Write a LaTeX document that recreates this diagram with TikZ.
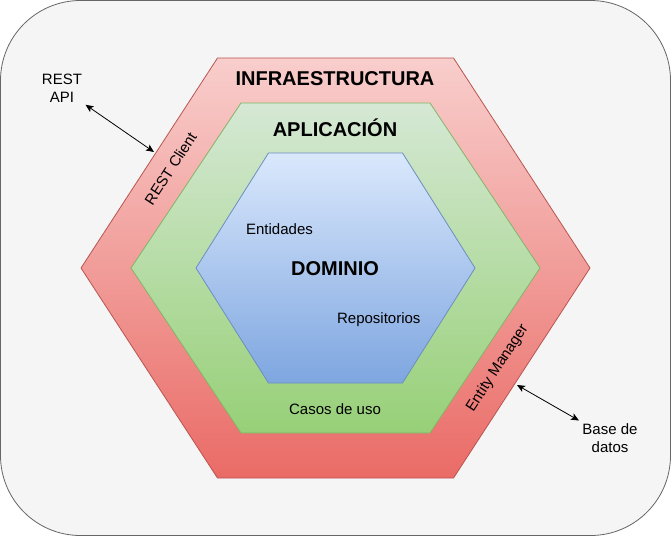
\documentclass[tikz,border=0pt]{standalone}
\usepackage{fontspec}
\setmainfont{Liberation Sans}
\usetikzlibrary{arrows.meta}

\definecolor{bgFill}{HTML}{F5F5F5}
\definecolor{bgLine}{HTML}{666666}
\definecolor{infraTop}{HTML}{F8CECC}
\definecolor{infraBot}{HTML}{EA6B66}
\definecolor{infraLine}{HTML}{B85450}
\definecolor{apliTop}{HTML}{D5E8D4}
\definecolor{apliBot}{HTML}{97D077}
\definecolor{apliLine}{HTML}{82B366}
\definecolor{domTop}{HTML}{DAE8FC}
\definecolor{domBot}{HTML}{7EA6E0}
\definecolor{domLine}{HTML}{6C8EBF}

\begin{document}
\begin{tikzpicture}[x=1pt, y=-1pt,
  every node/.style={font=\fontsize{15}{17.5}\selectfont},
  layer/.style={font=\fontsize{20}{24}\selectfont\bfseries, anchor=base},
  label/.style={anchor=base},
  link/.style={{Stealth[length=8pt,width=7pt,inset=2pt]}-{Stealth[length=8pt,width=7pt,inset=2pt]}, line width=0.8pt}]
  \useasboundingbox (0,0) rectangle (671,536);
  \draw[fill=bgFill, draw=bgLine, line width=0.8pt, rounded corners=80pt] (0.5,0.5) rectangle (670.5,535.5);
  % hexagons, outer to inner
  \foreach \lay/\a/\w/\h in {infra/118/254.5/210, apli/94.5/204.5/165, dom/67/139.5/115}{
    \shade[top color=\lay Top, bottom color=\lay Bot, draw=\lay Line, line width=0.8pt]
      (335.5-\a,268-\h) -- (335.5+\a,268-\h) -- (335.5+\w,268) -- (335.5+\a,268+\h)
      -- (335.5-\a,268+\h) -- (335.5-\w,268) -- cycle;
  }
  \node[layer] (infra) at (335,85.7) {INFRAESTRUCTURA};
  \node[layer] (apli) at (335,136) {APLICACIÓN};
  \node[layer] (dom) at (335,275.7) {DOMINIO};
  \node[label] (ent) at (279.5,234) {Entidades};
  \node[label] (repo) at (378.8,323.3) {Repositorios};
  \node[label] (casos) at (335,414.3) {Casos de uso};
  \node[rotate=57] (client) at (170.5,168.5) {REST Client};
  \node[rotate=57] (manager) at (497.5,368) {Entity Manager};
  \node[align=center] (api) at (62,88.5) {REST\\API};
  \node[align=center] (db) at (610,438.3) {Base de\\datos};
  \coordinate (clientedge) at (154,152);
  \coordinate (manageredge) at (517,385);
  \draw[link] (api) -- (clientedge);
  \draw[link] (manageredge) -- (db);
\end{tikzpicture}
\end{document}
